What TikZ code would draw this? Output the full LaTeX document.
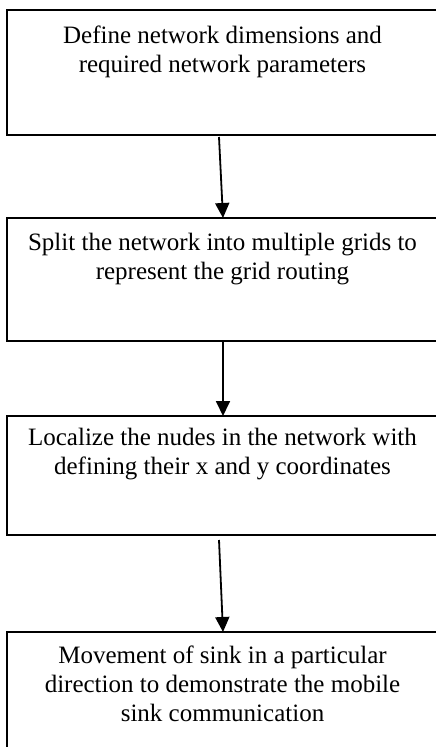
\documentclass[tikz,border=0pt]{standalone}
\usepackage{fontspec}
\setmainfont{Liberation Serif}
\usepackage{tikz}
\usetikzlibrary{positioning, arrows.meta}

\begin{document}
\begin{tikzpicture}[
      box/.style={draw, line width=1.8pt, outer sep=0pt, inner ysep=0pt, minimum width=431pt, align=center, font=\fontsize{25}{29}\selectfont},
      arrow/.style={-{Triangle[length=15pt, width=14pt]}, line width=1.8pt}
    ]
      \clip (0,0) rectangle (436pt,-747pt);

      % text height counts down to the last line, so the text sits at the top of each box
      \node[box, anchor=north, text height=62pt, text depth=63pt] (define) at (222.5pt,-10pt) {Define network dimensions and\\required network parameters};
      \node[box, below=83pt of define, text height=61pt, text depth=62pt] (split) {Split the network into multiple grids to\\represent the grid routing};
      \node[box, below=75pt of split, text height=58pt, text depth=61pt] (localize) {Localize the nudes in the network with\\defining their x and y coordinates};
      \node[box, below=97pt of localize, text height=89pt, text depth=41pt] (movement) {Movement of sink in a particular\\direction to demonstrate the mobile\\sink communication};

      \draw[arrow] ([xshift=-3.5pt,yshift=-2pt]define.south) -- ([xshift=0.5pt]split.north);
      \draw[arrow] ([xshift=0.5pt]split.south) -- ([xshift=0.5pt]localize.north);
      \draw[arrow] ([xshift=-3.5pt,yshift=-5pt]localize.south) -- ([xshift=0.5pt]movement.north);
    \end{tikzpicture}
\end{document}
